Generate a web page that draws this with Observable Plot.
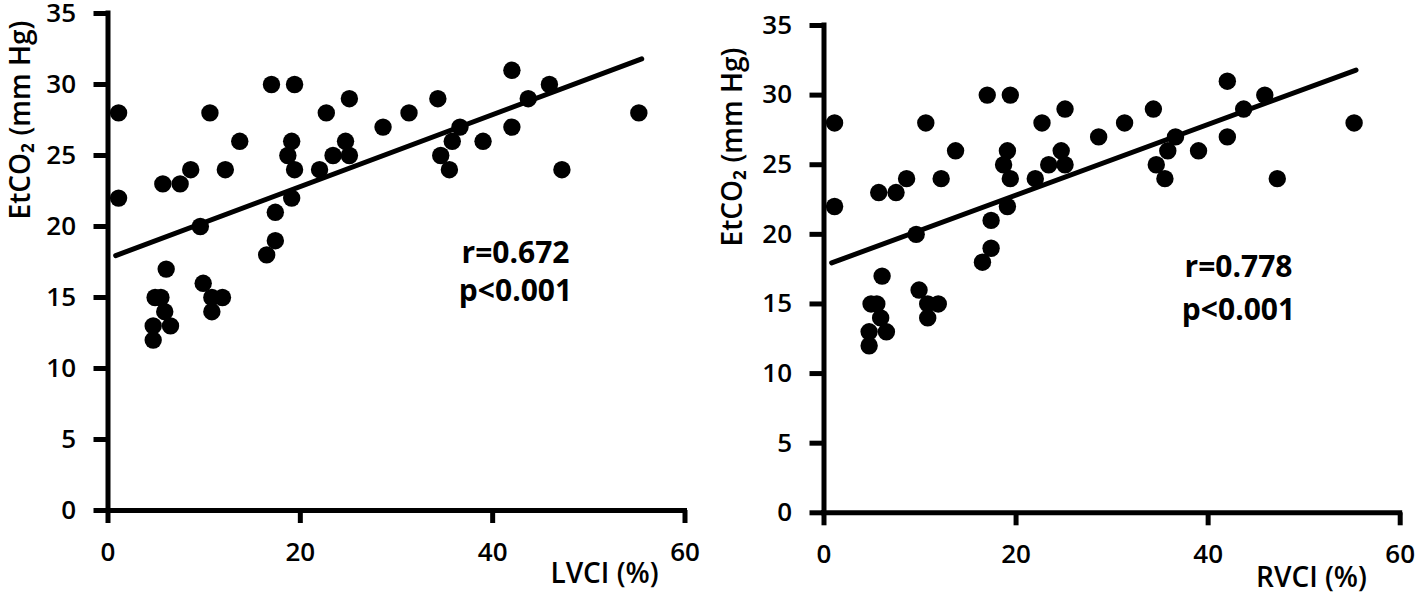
<!DOCTYPE html>
<html>
<head>
<meta charset="utf-8">
<script src="https://cdn.jsdelivr.net/npm/d3@7"></script>
<script src="https://cdn.jsdelivr.net/npm/@observablehq/plot@0.6"></script>
<style>
  html, body { margin: 0; padding: 0; background: #fff; }
  #wrap { display: flex; width: 1418px; height: 596px; }
</style>
</head>
<body>
<div id="wrap"></div>
<script>
// ---- data ----
const etco2 = [28, 22, 12, 13, 15, 15, 14, 13, 17, 23, 23, 24, 20, 16, 15, 15, 14, 28, 24, 26,
               18, 30, 19, 21, 25, 22, 26, 30, 24, 24, 28, 25, 26, 25, 29, 27, 28, 29, 25, 24,
               26, 27, 26, 31, 27, 29, 30, 24, 28];
const lvci  = [1.1, 1.1, 4.7, 4.7, 4.9, 5.5, 5.9, 6.5, 6.05, 5.7, 7.5, 8.6, 9.6, 9.9, 10.8, 11.9, 10.8, 10.6, 12.2, 13.7,
               16.5, 17.0, 17.4, 17.4, 18.7, 19.1, 19.1, 19.4, 19.4, 22.0, 22.7, 23.4, 24.7, 25.1, 25.1, 28.6, 31.3, 34.3, 34.6, 35.5,
               35.8, 36.6, 39.0, 42.0, 42.0, 43.7, 45.9, 47.2, 55.2];
const rvci  = [1.1, 1.1, 4.7, 4.7, 4.9, 5.5, 5.9, 6.5, 6.05, 5.7, 7.5, 8.6, 9.6, 9.9, 10.8, 11.9, 10.8, 10.6, 12.2, 13.7,
               16.5, 17.0, 17.4, 17.4, 18.7, 19.1, 19.1, 19.4, 19.4, 22.0, 22.7, 23.4, 24.7, 25.1, 25.1, 28.6, 31.3, 34.3, 34.6, 35.5,
               35.8, 36.6, 39.0, 42.0, 42.0, 43.7, 45.9, 47.2, 55.2];
// fitted regression line end points (x, y)
const lvFitX = [0.8, 55.5];
const lvFitY = [17.95, 31.8];
const rvFitX = [0.8, 55.4];
const rvFitY = [17.95, 31.8];
const xTicks = [0, 20, 40, 60];
const yTicks = [0, 5, 10, 15, 20, 25, 30, 35];
const yLabel = "EtCO₂ (mm Hg)";
const stats = {
  left:  ["r=0.672", "p<0.001"],
  right: ["r=0.778", "p<0.001"]
};

const FONT = "'Open Sans', sans-serif";

function panel(xs, fitX, fitY, xLabel, statLines, L) {
  const pts = xs.map((x, i) => ({x, y: etco2[i]}));
  const fit = fitX.map((x, i) => ({x, y: fitY[i]}));
  const tickFont = {fontSize: 26, fontWeight: 600};
  return Plot.plot({
    width: 709,
    height: 596,
    marginLeft: L.ml, marginRight: L.mr, marginTop: L.mt, marginBottom: L.mb,
    x: {domain: [0, 60]},
    y: {domain: [0, 35]},
    style: {fontFamily: FONT, color: "black", background: "white"},
    marks: [
      // tick marks (labels drawn as text marks below)
      Plot.axisX({ticks: xTicks, tickSize: 13, strokeWidth: 5, label: null, tickFormat: () => ""}),
      Plot.axisY({ticks: yTicks, tickSize: 14, strokeWidth: 5, label: null, tickFormat: () => ""}),
      Plot.text(xTicks, {x: d => d, text: d => String(d), frameAnchor: "bottom", dy: 42,
        textAnchor: "middle", lineAnchor: "middle", ...tickFont}),
      Plot.text(yTicks, {y: d => d, text: d => String(d), frameAnchor: "left", dx: -32,
        textAnchor: "end", lineAnchor: "middle", ...tickFont}),
      Plot.ruleY([0], {stroke: "black", strokeWidth: 5, strokeLinecap: "square"}),
      Plot.ruleX([0], {stroke: "black", strokeWidth: 5, strokeLinecap: "square"}),
      Plot.line(fit, {x: "x", y: "y", stroke: "black", strokeWidth: 5}),
      Plot.dot(pts, {x: "x", y: "y", r: 8.7, fill: "black", stroke: "none"}),
      Plot.text([xLabel], {text: d => d, frameAnchor: "bottom-left", dx: L.xlx, dy: L.xly,
        textAnchor: "middle", lineAnchor: "middle", fontSize: 28, fontWeight: 600}),
      Plot.text([yLabel], {text: d => d, frameAnchor: "top-left", dx: L.ylx, dy: L.yly, rotate: -90,
        textAnchor: "end", lineAnchor: "middle", fontSize: 28, fontWeight: 600}),
      Plot.text([statLines[0]], {text: d => d, frameAnchor: "top-left", dx: L.sx, dy: L.sy1,
        textAnchor: "middle", lineAnchor: "middle", fontSize: 30, fontWeight: 700}),
      Plot.text([statLines[1]], {text: d => d, frameAnchor: "top-left", dx: L.sx, dy: L.sy2,
        textAnchor: "middle", lineAnchor: "middle", fontSize: 30, fontWeight: 700})
    ]
  });
}

const wrap = document.getElementById("wrap");
wrap.appendChild(panel(lvci, lvFitX, lvFitY, "LVCI (%)", stats.left,
  {ml: 107.5, mr: 24.5, mt: 13, mb: 86, xlx: 496.5, xly: 64, ylx: -87, yly: 7, sx: 407.5, sy1: 240, sy2: 278}));
wrap.appendChild(panel(rvci, rvFitX, rvFitY, "RVCI (%)", stats.right,
  {ml: 114.5, mr: 18.3, mt: 25, mb: 83.7, xlx: 487.5, xly: 65, ylx: -91, yly: 22, sx: 414.5, sy1: 242, sy2: 285}));
</script>
</body>
</html>
